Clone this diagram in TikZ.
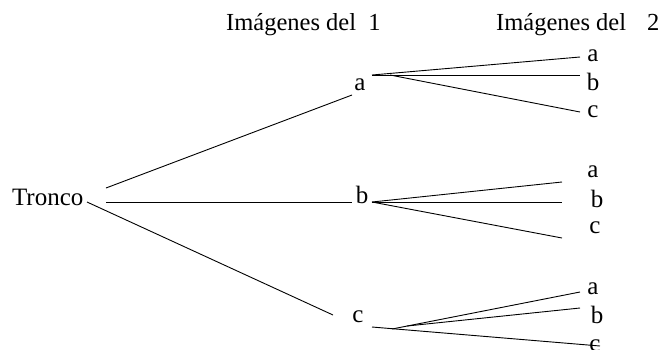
\documentclass[tikz,border=0pt]{standalone}
\usepackage{fontspec}
\setmainfont{Liberation Serif}
\begin{document}
\begin{tikzpicture}[x=1bp,y=-1bp,
  lbl/.style={inner sep=0pt,anchor=base,font=\fontsize{25bp}{29bp}\selectfont},
  hdr/.style={inner sep=0pt,anchor=base west,font=\fontsize{24.5bp}{29bp}\selectfont},
  edge/.style={draw=black,line width=0.9bp}]
\useasboundingbox (0,0) rectangle (661,349);
% headers
\node[hdr] (h1) at (226,30) {Imágenes del\ \ 1};
\node[hdr] (h2) at (496,30) {Imágenes del\hspace{21bp}2};
% root and level 1
\node[lbl] (T) at (47.7,205) {Tronco};
\node[lbl] (A) at (360,90) {a};
\node[lbl] (B) at (362,203) {b};
\node[lbl] (C) at (358,322) {c};
% level 2
\node[lbl] (Aa) at (593,61) {a};
\node[lbl] (Ab) at (593,90) {b};
\node[lbl] (Ac) at (593,117) {c};
\node[lbl] (Ba) at (593,177) {a};
\node[lbl] (Bb) at (597,207) {b};
\node[lbl] (Bc) at (595,233) {c};
\node[lbl] (Ca) at (593,294) {a};
\node[lbl] (Cb) at (597,323) {b};
\node[lbl] (Cc) at (595,351) {c};
% connector end points
\coordinate (T1) at (106,188);
\coordinate (T2) at (106,202);
\coordinate (T3) at (87,202);
\coordinate (A0) at (352,95);
\coordinate (B0) at (352,202);
\coordinate (C0) at (333,315);
\coordinate (As) at (372,75);
\coordinate (Asc) at (390,75);
\coordinate (Aae) at (580,57);
\coordinate (Abe) at (580,75);
\coordinate (Ace) at (580,112);
\coordinate (Bs) at (372,202);
\coordinate (Bae) at (562,182);
\coordinate (Bbe) at (562,202);
\coordinate (Bce) at (562,238);
\coordinate (Cs) at (372,327);
\coordinate (Csa) at (392,329);
\coordinate (Csb) at (407,326);
\coordinate (Cae) at (580,292);
\coordinate (Cbe) at (580,308);
\coordinate (Cce) at (600,346);
% connectors
\draw[edge] (T1) -- (A0);
\draw[edge] (T2) -- (B0);
\draw[edge] (T3) -- (C0);
\draw[edge] (As) -- (Aae);
\draw[edge] (As) -- (Abe);
\draw[edge] (Asc) -- (Ace);
\draw[edge] (Bs) -- (Bae);
\draw[edge] (Bs) -- (Bbe);
\draw[edge] (Bs) -- (Bce);
\draw[edge] (Cs) -- (Cce);
\draw[edge] (Csa) -- (Cae);
\draw[edge] (Csb) -- (Cbe);
\end{tikzpicture}
\end{document}
